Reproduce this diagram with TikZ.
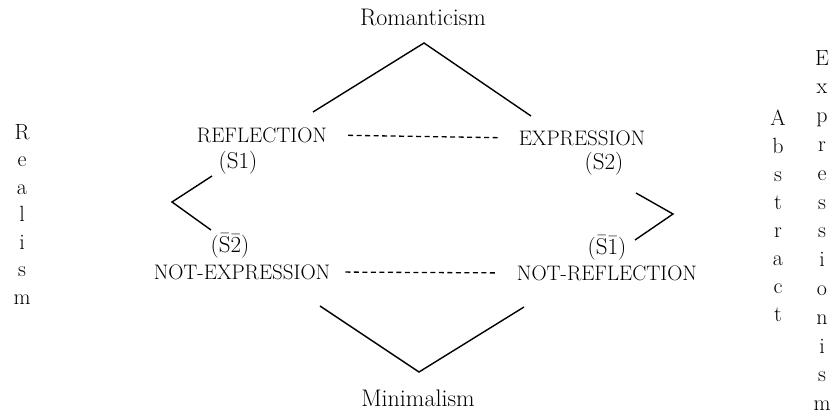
\documentclass[tikz,border=0pt]{standalone}
\newcommand{\nbar}[1]{\(\bar{\mbox{#1}}\)}
\begin{document}
\begin{tikzpicture}[x=1pt,y=-1pt,
            lbl/.style={inner sep=0pt,font=\fontsize{21}{25}\selectfont},
            school/.style={inner sep=0pt,font=\fontsize{24}{28}\selectfont},
            sig/.style={inner sep=0pt,font=\fontsize{23}{27}\selectfont},
            vword/.style={inner sep=0pt,anchor=north,align=center,font=\fontsize{22}{#1}\selectfont},
            vline/.style={line width=1.4pt},
            dashline/.style={line width=1.3pt,dash pattern=on 5pt off 3.5pt}]
            \useasboundingbox (0,0) rectangle (832,417);
            \coordinate (TL) at (313,112);
            \coordinate (TA) at (424,43);
            \coordinate (TR) at (531,116);
            \coordinate (BL) at (320,306);
            \coordinate (BA) at (419,372);
            \coordinate (BR) at (524,307);
            \coordinate (LU) at (212,176);
            \coordinate (LA) at (172,202);
            \coordinate (LD) at (211,230);
            \coordinate (RU) at (636,193);
            \coordinate (RA) at (673,214);
            \coordinate (RD) at (635,240);
            \node[school] (romant) at (423,17) {Romanticism};
            \node[school] (minimal) at (418,398) {Minimalism};
            \node[lbl] (refl) at (262,135) {REFLECTION};
            \node[lbl] (expr) at (582,138) {EXPRESSION};
            \node[lbl] (notexpr) at (242,272) {NOT-EXPRESSION};
            \node[lbl] (notrefl) at (607,273) {NOT-REFLECTION};
            \node[sig] (sone) at (238,163) {(S1)};
            \node[sig] (stwo) at (604,164) {(S2)};
            \node[sig] (nstwo) at (230,246) {(\nbar{S}\nbar{2})};
            \node[sig] (nsone) at (607,248) {(\nbar{S}\nbar{1})};
            \node[vword=27.5] (realism) at (22,124) {R\\e\\a\\l\\i\\s\\m};
            \node[vword=28] (abstract) at (778,110) {A\\b\\s\\t\\r\\a\\c\\t};
            \node[vword=28.8] (expressionism) at (822,50) {E\\x\\p\\r\\e\\s\\s\\i\\o\\n\\i\\s\\m};
            \draw[vline] (TL) -- (TA) -- (TR);
            \draw[vline] (BL) -- (BA) -- (BR);
            \draw[vline] (LU) -- (LA) -- (LD);
            \draw[vline] (RU) -- (RA) -- (RD);
            \draw[dashline,shorten <=21pt,shorten >=21pt] (refl.east) -- (expr.west);
            \draw[dashline,shorten <=15pt,shorten >=21pt] (notexpr.east) -- (notrefl.west);
        \end{tikzpicture}
\end{document}
